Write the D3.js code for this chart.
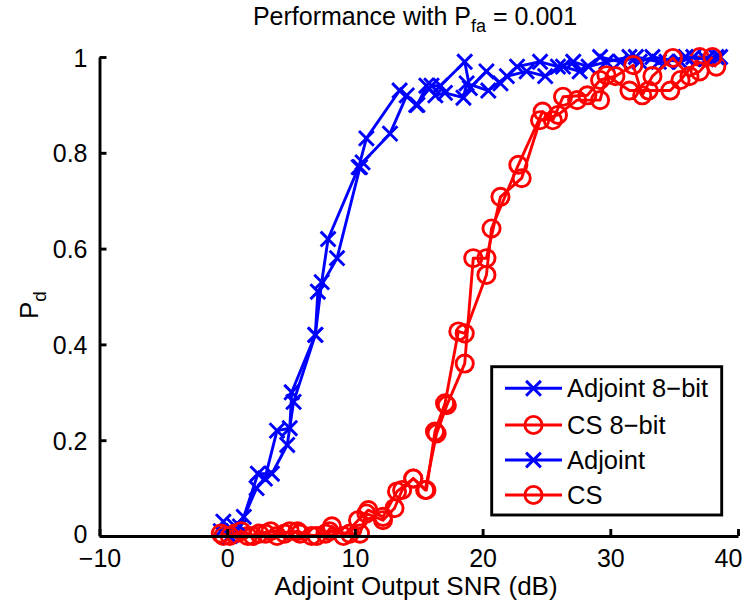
<!DOCTYPE html>
<html>
<head>
<meta charset="utf-8">
<script src="https://cdn.jsdelivr.net/npm/d3@7"></script>
<style>
  html, body { margin: 0; padding: 0; background: #fff; }
  svg { display: block; }
  text { font-family: "Liberation Sans", Arial, Helvetica, sans-serif; fill: #000; }
</style>
</head>
<body>
<svg id="chart" width="743" height="602"></svg>
<script>
// Detection probability vs. adjoint output SNR, P_fa = 0.001
const xTicks = [-10, 0, 10, 20, 30, 40];
const yTicks = [0, 0.2, 0.4, 0.6, 0.8, 1];
const yTickLabels = ["0", "0.2", "0.4", "0.6", "0.8", "1"];

// [SNR (dB), Pd]
const adjoint8bit = [
  [-0.5, 0.01], [0.6, 0.02], [1.3, 0.04], [2.4, 0.13], [3.5, 0.13], [4.7, 0.19],
  [5.2, 0.28], [6.9, 0.42], [7.4, 0.53], [7.9, 0.62], [10.3, 0.77], [10.9, 0.83],
  [13.5, 0.93], [14.8, 0.90], [16.0, 0.94], [16.7, 0.94], [18.6, 0.99], [19.0, 0.935],
  [20.3, 0.97], [21.4, 0.945], [22.7, 0.98], [24.5, 0.99], [25.9, 0.98], [27.1, 0.99],
  [28.3, 0.98], [29.7, 0.99], [31.5, 1.0], [32.3, 0.99], [33.3, 1.0], [35.5, 0.99],
  [36.5, 1.0], [38.6, 1.0]
];
const cs8bit = [
  [-0.3, 0.0], [0.6, 0.005], [1.6, 0.0], [2.5, 0.005], [3.4, 0.01], [4.5, 0.005],
  [5.5, 0.01], [6.6, 0.0], [7.7, 0.005], [8.2, 0.02], [9.1, 0.0], [10.25, 0.033],
  [11.05, 0.054], [12.2, 0.04], [13.3, 0.093], [14.57, 0.12], [15.5, 0.096], [16.4, 0.214],
  [17.2, 0.273], [18.6, 0.36], [19.27, 0.58], [20.3, 0.58], [21.4, 0.708], [23.06, 0.747],
  [24.5, 0.868], [25.9, 0.879], [27.4, 0.91], [29.2, 0.91], [29.7, 0.962], [31.5, 0.93],
  [33.0, 0.93], [34.7, 0.93], [35.5, 0.952], [37.0, 1.0], [38.3, 0.98]
];
const adjoint = [
  [-0.3, 0.03], [0.2, 0.0], [1.0, 0.02], [2.3, 0.10], [2.95, 0.12], [3.9, 0.22],
  [4.9, 0.225], [5.05, 0.30], [6.9, 0.42], [7.1, 0.51], [8.6, 0.58], [10.4, 0.77],
  [10.6, 0.78], [12.75, 0.84], [14.06, 0.92], [14.9, 0.90], [15.6, 0.94], [16.3, 0.92],
  [17.05, 0.925], [18.5, 0.915], [18.75, 0.945], [20.45, 0.93], [21.9, 0.96], [23.45, 0.97],
  [24.9, 0.96], [26.3, 0.98], [27.6, 0.97], [29.2, 1.0], [30.8, 0.99], [32.0, 1.0],
  [33.8, 0.99], [34.4, 0.99], [35.9, 1.0], [37.5, 0.995], [38.3, 1.0]
];
const cs = [
  [-0.5, 0.005], [0.2, 0.0], [1.1, 0.01], [2.0, 0.0], [3.0, 0.005], [3.9, 0.0],
  [4.9, 0.01], [5.7, 0.005], [7.0, 0.0], [8.0, 0.01], [9.6, 0.005], [10.4, 0.005],
  [10.9, 0.047], [12.2, 0.033], [13.1, 0.058], [13.7, 0.096], [14.57, 0.12], [15.6, 0.096],
  [16.27, 0.218], [17.06, 0.277], [18.1, 0.427], [18.6, 0.423], [20.3, 0.545], [20.7, 0.642],
  [22.8, 0.775], [24.7, 0.886], [25.5, 0.868], [26.3, 0.917], [28.2, 0.92], [29.2, 0.952],
  [30.4, 0.96], [31.8, 0.983], [32.5, 0.92], [33.3, 0.96], [34.9, 0.998], [36.2, 0.96],
  [37.0, 0.97], [38.0, 1.0]
];

const seriesNames = ["Adjoint 8\u2212bit", "CS 8\u2212bit", "Adjoint", "CS"];
const seriesData = [adjoint8bit, cs8bit, adjoint, cs];
const seriesColors = ["#0000ff", "#ff0000", "#0000ff", "#ff0000"];
const seriesMarkers = ["x", "o", "x", "o"];

const svg = d3.select("#chart");
const margin = { left: 99.5, right: 5, top: 57, bottom: 66 };
const W = 743, H = 602;
const FS = 25;

const x = d3.scaleLinear().domain([-10, 40]).range([margin.left, W - margin.right]);
const y = d3.scaleLinear().domain([0, 1]).range([H - margin.bottom, margin.top]);

const lw = 2.9;

// series
const line = d3.line().x(d => x(d[0])).y(d => y(d[1]));
const R = 8.6, X = 7.4;

seriesData.forEach((data, i) => {
  const g = svg.append("g");
  g.append("path").datum(data)
    .attr("d", line)
    .attr("fill", "none")
    .attr("stroke", seriesColors[i])
    .attr("stroke-width", lw)
    .attr("stroke-linejoin", "round");
  const m = g.selectAll("g.m").data(data).join("g")
    .attr("transform", d => `translate(${x(d[0])},${y(d[1])})`);
  if (seriesMarkers[i] === "o") {
    m.append("circle").attr("r", R).attr("fill", "none")
      .attr("stroke", seriesColors[i]).attr("stroke-width", lw);
  } else {
    m.append("path").attr("d", `M${-X},${-X}L${X},${X}M${-X},${X}L${X},${-X}`)
      .attr("stroke", seriesColors[i]).attr("stroke-width", lw);
  }
});

// axes (inward ticks, left and bottom only)
const axisG = svg.append("g");
const xAxis = axisG.append("g")
  .attr("transform", `translate(0,${y(0)})`)
  .call(d3.axisBottom(x).tickValues(xTicks).tickSizeInner(-7).tickSizeOuter(0).tickPadding(13));
const yAxis = axisG.append("g")
  .attr("transform", `translate(${x(-10)},0)`)
  .call(d3.axisLeft(y).tickValues(yTicks).tickFormat((d, i) => yTickLabels[i])
        .tickSizeInner(-7).tickSizeOuter(0).tickPadding(12));
[xAxis, yAxis].forEach(a => {
  a.select(".domain").attr("stroke", "#000").attr("stroke-width", lw);
  a.selectAll(".tick line").attr("stroke", "#000").attr("stroke-width", lw);
  a.selectAll(".tick text").style("font-size", FS + "px")
    .style("font-family", "'Liberation Sans', Arial, sans-serif");
});
xAxis.selectAll(".tick text").attr("dy", "0.71em");
// lift the zero label a little so it clears the x tick labels
yAxis.selectAll(".tick text").attr("dy", d => d === 0 ? "0.26em" : "0.36em");
// true minus sign on negative ticks; keep the last label inside the canvas
xAxis.selectAll(".tick text").text(d => d < 0 ? "\u2212" + Math.abs(d) : d)
  .attr("dx", d => d === 40 ? -10 : 0);

// title
const title = svg.append("text").attr("x", 415).attr("y", 25)
  .attr("text-anchor", "middle").style("font-size", "25px");
title.append("tspan").text("Performance with P");
title.append("tspan").attr("dy", 7).style("font-size", "18px").text("fa");
title.append("tspan").attr("dy", -7).text(" = 0.001");

// axis labels
svg.append("text").attr("x", 416).attr("y", 595).attr("text-anchor", "middle")
  .style("font-size", "26px").text("Adjoint Output SNR (dB)");
const yl = svg.append("text").attr("transform", "translate(38,305) rotate(-90)")
  .attr("text-anchor", "middle").style("font-size", "26px");
yl.append("tspan").text("P");
yl.append("tspan").attr("dy", 8).style("font-size", "19px").text("d");

// legend
const lg = svg.append("g");
lg.append("rect").attr("x", 491.7).attr("y", 366.7).attr("width", 230).attr("height", 148.3)
  .attr("fill", "#fff").attr("stroke", "#000").attr("stroke-width", lw);
const rowY = [388.3, 425, 460, 495];
seriesNames.forEach((name, i) => {
  const row = lg.append("g").attr("transform", `translate(0,${rowY[i]})`);
  row.append("line").attr("x1", 505).attr("x2", 562).attr("y1", 0).attr("y2", 0)
    .attr("stroke", seriesColors[i]).attr("stroke-width", lw);
  if (seriesMarkers[i] === "o") {
    row.append("circle").attr("cx", 533.5).attr("cy", 0).attr("r", R).attr("fill", "none")
      .attr("stroke", seriesColors[i]).attr("stroke-width", lw);
  } else {
    row.append("path").attr("d", `M${533.5 - X},${-X}L${533.5 + X},${X}M${533.5 - X},${X}L${533.5 + X},${-X}`)
      .attr("stroke", seriesColors[i]).attr("stroke-width", lw);
  }
  row.append("text").attr("x", 567).attr("y", 0).attr("dy", "0.36em")
    .style("font-size", "25.5px").text(name);
});
</script>
</body>
</html>
